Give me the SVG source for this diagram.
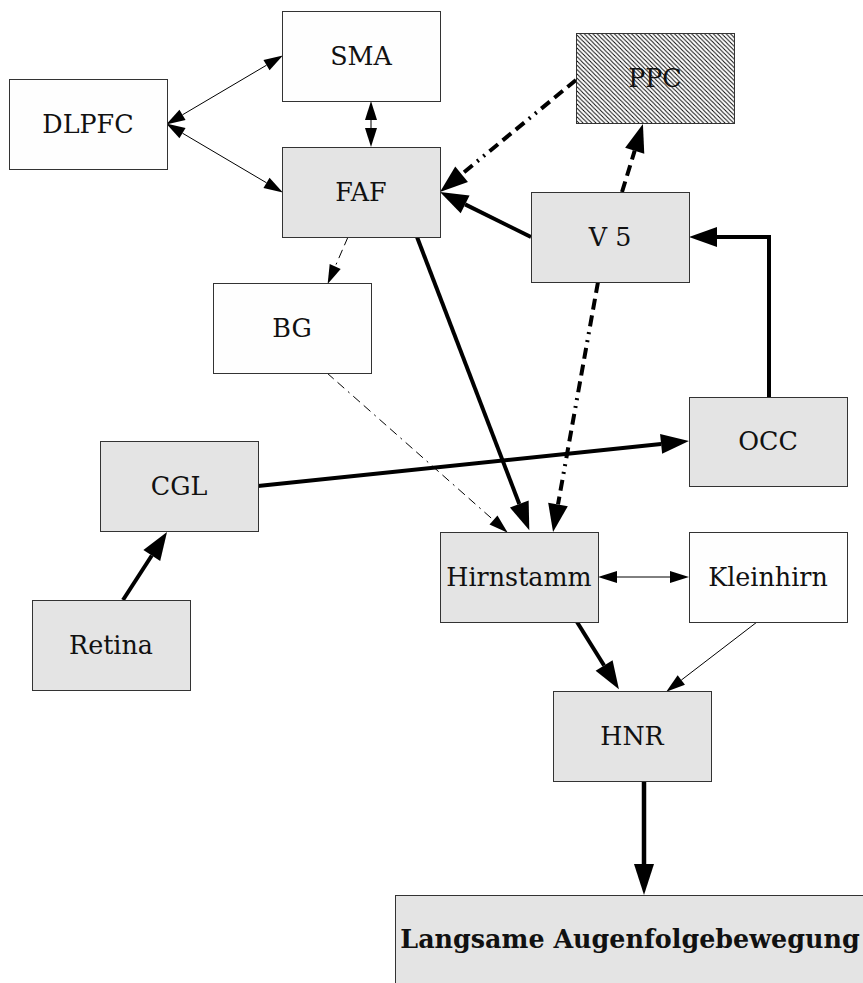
<svg xmlns="http://www.w3.org/2000/svg" width="863" height="983" viewBox="0 0 863 983">
  <style>
    .box { stroke: #333; stroke-width: 1; }
    .white { fill: #fefefe; }
    .grey { fill: #e4e4e4; }
    .hatch { fill: url(#diag); }
    text { font-family: "DejaVu Serif", "Liberation Serif", serif; font-size: 25.4px; fill: #111; text-anchor: middle; }
    .bold { font-weight: bold; }
    .edge { fill: none; stroke: #000; }
    .thin { stroke-width: 1; }
    .thick { stroke-width: 4; }
    .heavy { stroke-width: 4.5; }
    .dd { stroke-dasharray: 11 6 11 6 11 6 2 6 2 6; }
    .ddthin { stroke-dasharray: 9 5 9 5 2 5; }
  </style>
  <defs>
    <pattern id="diag" patternUnits="userSpaceOnUse" width="4.3" height="4.3">
      <rect width="4.3" height="4.3" fill="#fff"/>
      <path d="M-1,-1 L5.3,5.3 M-1,3.3 L1,5.3 M3.3,-1 L5.3,1" stroke="#000" stroke-width="0.9"/>
    </pattern>
    <!-- arrowheads: base at the path end, tip pointing forward -->
    <marker id="hs" markerUnits="userSpaceOnUse" markerWidth="20" markerHeight="12" refX="0" refY="6" orient="auto-start-reverse" overflow="visible">
      <path d="M0,0 L19,6 L0,12 Z" fill="#000"/>
    </marker>
    <marker id="hb" markerUnits="userSpaceOnUse" markerWidth="30" markerHeight="20" refX="0" refY="10" orient="auto" overflow="visible">
      <path d="M0,0 L28,10 L0,20 Z" fill="#000"/>
    </marker>
    <marker id="hx" markerUnits="userSpaceOnUse" markerWidth="32" markerHeight="20" refX="0" refY="10" orient="auto" overflow="visible">
      <path d="M0,0 L31,10 L0,20 Z" fill="#000"/>
    </marker>
  </defs>

  <g id="edges">
    <!-- DLPFC <-> SMA -->
    <path class="edge thin" d="M182.5,114.8 L266.5,65.2" marker-start="url(#hs)" marker-end="url(#hs)"/>
    <!-- DLPFC <-> FAF -->
    <path class="edge thin" d="M182.5,133.2 L266.5,182.8" marker-start="url(#hs)" marker-end="url(#hs)"/>
    <!-- SMA <-> FAF -->
    <path class="edge thin" d="M371,120 L371,128" marker-start="url(#hs)" marker-end="url(#hs)"/>
    <!-- PPC -> FAF -->
    <path class="edge thick dd" d="M576,80 L461.6,174.2" marker-end="url(#hb)"/>
    <!-- V5 -> FAF -->
    <path class="edge thick" d="M531,237 L465.1,204.4" marker-end="url(#hb)"/>
    <!-- V5 -> PPC -->
    <path class="edge thick dd" d="M622,192 L634.7,150.7" marker-end="url(#hb)"/>
    <!-- V5 -> Hirnstamm -->
    <path class="edge thick dd" d="M598,282 L558,504.4" marker-end="url(#hb)"/>
    <!-- OCC -> V5 -->
    <path class="edge thick" d="M769,397 L769,237 L717,237" marker-end="url(#hb)"/>
    <!-- CGL -> OCC -->
    <path class="edge thick" d="M258,486 L661.1,443.9" marker-end="url(#hb)"/>
    <!-- FAF -> Hirnstamm -->
    <path class="edge thick" d="M417,237 L519.3,504" marker-end="url(#hb)"/>
    <!-- FAF -> BG -->
    <path class="edge thin ddthin" d="M348,237 L335.2,266.5" marker-end="url(#hs)"/>
    <!-- BG -> Hirnstamm -->
    <path class="edge thin ddthin" d="M327,373 L493.5,520.1" marker-end="url(#hs)"/>
    <!-- Retina -> CGL -->
    <path class="edge thick" d="M123,600 L151.8,555.5" marker-end="url(#hb)"/>
    <!-- Hirnstamm <-> Kleinhirn -->
    <path class="edge thin" d="M617,577 L670,577" marker-start="url(#hs)" marker-end="url(#hs)"/>
    <!-- Hirnstamm -> HNR -->
    <path class="edge thick" d="M577,622 L604.1,665.5" marker-end="url(#hb)"/>
    <!-- Kleinhirn -> HNR -->
    <path class="edge thin" d="M757,622 L681.3,680.1" marker-end="url(#hs)"/>
    <!-- HNR -> output -->
    <path class="edge heavy" d="M644,781 L644,864" marker-end="url(#hx)"/>
  </g>

  <g id="SMA">
    <rect class="box white" x="282.5" y="11.5" width="158" height="90"/>
    <text x="361" y="65">SMA</text>
  </g>
  <g id="DLPFC">
    <rect class="box white" x="9.5" y="79.5" width="158" height="90"/>
    <text x="88" y="133">DLPFC</text>
  </g>
  <g id="FAF">
    <rect class="box grey" x="282.5" y="147.5" width="158" height="90"/>
    <text x="361" y="201">FAF</text>
  </g>
  <g id="PPC">
    <rect class="box hatch" x="576.5" y="33.5" width="158" height="90"/>
    <text x="655" y="87">PPC</text>
  </g>
  <g id="V5">
    <rect class="box grey" x="531.5" y="192.5" width="158" height="90"/>
    <text x="610" y="246">V 5</text>
  </g>
  <g id="BG">
    <rect class="box white" x="213.5" y="283.5" width="158" height="90"/>
    <text x="292" y="337">BG</text>
  </g>
  <g id="OCC">
    <rect class="box grey" x="689.5" y="397.5" width="158" height="89"/>
    <text x="768" y="450">OCC</text>
  </g>
  <g id="CGL">
    <rect class="box grey" x="100.5" y="441.5" width="158" height="90"/>
    <text x="179" y="495">CGL</text>
  </g>
  <g id="Retina">
    <rect class="box grey" x="32.5" y="600.5" width="158" height="90"/>
    <text x="111" y="654">Retina</text>
  </g>
  <g id="Hirnstamm">
    <rect class="box grey" x="440.5" y="532.5" width="158" height="90"/>
    <text x="519" y="586">Hirnstamm</text>
  </g>
  <g id="Kleinhirn">
    <rect class="box white" x="689.5" y="532.5" width="158" height="90"/>
    <text x="768" y="586">Kleinhirn</text>
  </g>
  <g id="HNR">
    <rect class="box grey" x="553.5" y="691.5" width="158" height="90"/>
    <text x="632" y="745">HNR</text>
  </g>
  <g id="Augenfolgebewegung">
    <rect class="box grey" x="395.5" y="895.5" width="500" height="120"/>
    <text class="bold" x="630" y="948">Langsame Augenfolgebewegung</text>
  </g>
</svg>
